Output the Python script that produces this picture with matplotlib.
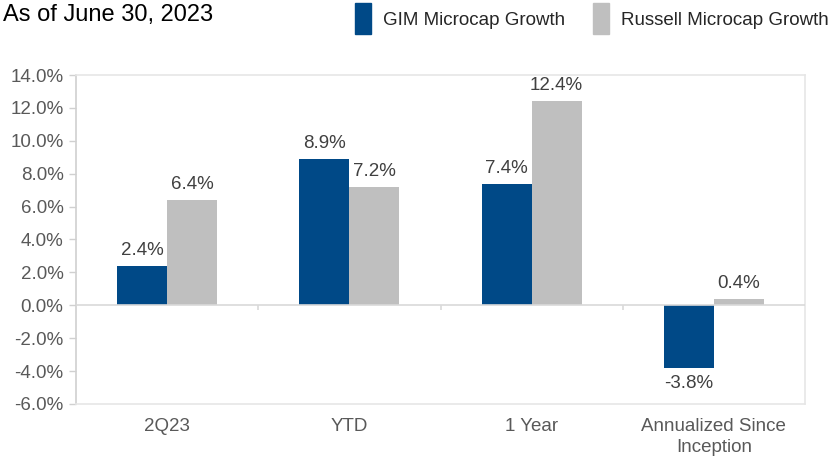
import numpy as np
import matplotlib
matplotlib.use('Agg')
import matplotlib.pyplot as plt
from matplotlib.patches import Rectangle

plt.rcParams['font.family'] = ['Liberation Sans', 'DejaVu Sans']

# data
categories = ['2Q23', 'YTD', '1 Year', 'Annualized Since\nInception']
gim = [2.4, 8.9, 7.4, -3.8]
russell = [6.4, 7.2, 12.4, 0.4]
series_names = ['GIM Microcap Growth', 'Russell Microcap Growth']
navy = '#004987'
grey = '#bfbfbf'
fs = 13.5

fig = plt.figure(figsize=(8.39, 4.57), dpi=100)
ax = fig.add_axes([76/839, 1-404/457, (805-76)/839, (404-75)/457])

x = np.arange(len(categories))
w = 0.274
b1 = ax.bar(x - w/2, gim, w, color=navy)
b2 = ax.bar(x + w/2, russell, w, color=grey)

# data labels
for bars in (b1, b2):
    for r in bars:
        v = r.get_height()
        xc = r.get_x() + r.get_width()/2
        if v >= 0:
            ax.annotate(f'{v:.1f}%', (xc, v), xytext=(0, 5), textcoords='offset points',
                        ha='center', va='bottom', fontsize=fs, color='#404040')
        else:
            ax.annotate(f'{v:.1f}%', (xc, v), xytext=(0, -5), textcoords='offset points',
                        ha='center', va='top', fontsize=fs, color='#404040')

ax.set_ylim(-6, 14)
ax.set_xlim(-0.5, 3.5)
ax.set_yticks(np.arange(-6, 15, 2))
ax.set_yticklabels([f'{t:.1f}%' for t in np.arange(-6, 15, 2)])
ax.tick_params(axis='y', colors='#d0d0d0', labelcolor='#595959', labelsize=fs,
               length=5, width=1, direction='out', pad=4)

# category labels
ax.set_xticks(x)
ax.set_xticklabels(categories, linespacing=1.3)
ax.tick_params(axis='x', length=0, labelcolor='#595959', labelsize=fs, pad=10)

# plot border
for s in ['top', 'right', 'bottom']:
    ax.spines[s].set_color('#e6e6e6')
    ax.spines[s].set_linewidth(1.2)
ax.spines['left'].set_color('#d0d0d0')
ax.spines['left'].set_linewidth(1.2)

# zero line with category dividers
ax.axhline(0, color='#d9d9d9', lw=1.2, zorder=3)
ax.vlines([0.5, 1.5, 2.5], -0.3, 0, color='#d9d9d9', lw=1.2)

fig.text(3/839, 1-15/457, 'As of June 30, 2023', fontsize=17, va='center', ha='left', color='black')

# legend
handles = [Rectangle((0, 0), 1, 1, color=navy), Rectangle((0, 0), 1, 1, color=grey)]
fig.legend(handles, series_names, loc='upper left', bbox_to_anchor=(355/839, 1-3/457), ncol=2,
           frameon=False, fontsize=fs, handlelength=0.85, handleheight=2.2,
           handletextpad=0.64, columnspacing=1.5, borderpad=0, borderaxespad=0,
           labelcolor='#262626')

fig.savefig('out.png', dpi=100)
